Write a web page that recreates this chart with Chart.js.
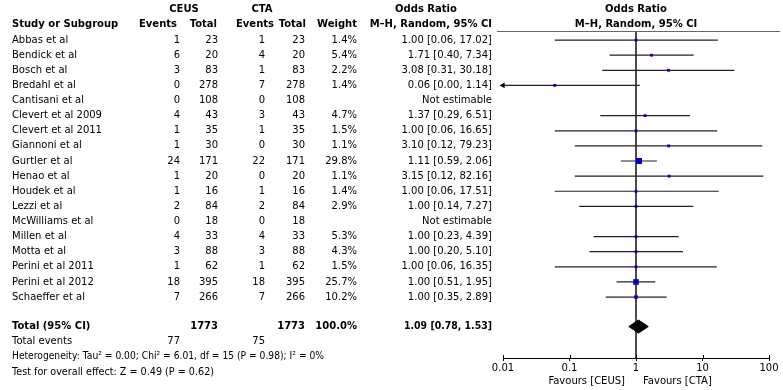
<!DOCTYPE html>
<html>
<head>
  <title>Forest plot - CEUS vs CTA</title>
  <script src="https://cdn.jsdelivr.net/npm/chart.js"></script>
  <style>
    html, body { margin: 0; padding: 0; background: #fff; }
    #wrap { width: 783px; height: 390px; position: relative; }
  </style>
</head>
<body>
  <div id="wrap"><canvas id="forest"></canvas></div>

  <script>
    // Study data
    const studies = ['Abbas et al', 'Bendick et al', 'Bosch et al', 'Bredahl et al', 'Cantisani et al',
      'Clevert et al 2009', 'Clevert et al 2011', 'Giannoni et al', 'Gurtler et al', 'Henao et al',
      'Houdek et al', 'Lezzi et al', 'McWilliams et al', 'Millen et al', 'Motta et al',
      'Perini et al 2011', 'Perini et al 2012', 'Schaeffer et al'];
    const ceusEvents = [1, 6, 3, 0, 0, 4, 1, 1, 24, 1, 1, 2, 0, 4, 3, 1, 18, 7];
    const ceusTotal = [23, 20, 83, 278, 108, 43, 35, 30, 171, 20, 16, 84, 18, 33, 88, 62, 395, 266];
    const ctaEvents = [1, 4, 1, 7, 0, 3, 1, 0, 22, 0, 1, 2, 0, 4, 3, 1, 18, 7];
    const ctaTotal = [23, 20, 83, 278, 108, 43, 35, 30, 171, 20, 16, 84, 18, 33, 88, 62, 395, 266];
    const weights = [1.4, 5.4, 2.2, 1.4, null, 4.7, 1.5, 1.1, 29.8, 1.1, 1.4, 2.9, null, 5.3, 4.3, 1.5, 25.7, 10.2];
    const oddsRatio = [1.00, 1.71, 3.08, 0.06, null, 1.37, 1.00, 3.10, 1.11, 3.15, 1.00, 1.00, null, 1.00, 1.00, 1.00, 1.00, 1.00];
    const ciLow = [0.06, 0.40, 0.31, 0.00, null, 0.29, 0.06, 0.12, 0.59, 0.12, 0.06, 0.14, null, 0.23, 0.20, 0.06, 0.51, 0.35];
    const ciHigh = [17.02, 7.34, 30.18, 1.14, null, 6.51, 16.65, 79.23, 2.06, 82.16, 17.51, 7.27, null, 4.39, 5.10, 16.35, 1.95, 2.89];

    const totalCeus = 1773;
    const totalCta = 1773;
    const totalEventsCeus = 77;
    const totalEventsCta = 75;
    const totalOR = 1.09;
    const totalLow = 0.78;
    const totalHigh = 1.53;

    const axisTicks = [0.01, 0.1, 1, 10, 100];
    const heterogeneity = 'Heterogeneity: Tau\u00B2 = 0.00; Chi\u00B2 = 6.01, df = 15 (P = 0.98); I\u00B2 = 0%';
    const overallTest = 'Test for overall effect: Z = 0.49 (P = 0.62)';

    // row positions (in row units)
    const totalRow = 18.95;
    const eventsRow = 19.95;
    const hetRow = 20.95;
    const testRow = 22;

    const FONT = '"DejaVu Sans", Verdana, sans-serif';
    const xMin = axisTicks[0], xMax = axisTicks[axisTicks.length - 1];
    const fmt = v => v.toFixed(2);

    const datasets = [];

    // vertical line of no effect (drawn underneath everything)
    datasets.push({
      data: [{x: 1, y: -0.6}, {x: 1, y: 21.03}], order: 10,
      showLine: true, borderColor: '#333', borderWidth: 1, pointRadius: 0
    });

    // confidence interval lines
    studies.forEach((s, i) => {
      if (oddsRatio[i] === null) return;
      datasets.push({
        data: [{x: Math.max(ciLow[i], xMin), y: i}, {x: Math.min(ciHigh[i], xMax), y: i}], order: 5,
        showLine: true, borderColor: '#222', borderWidth: 1.2, pointRadius: 0
      });
    });

    // arrow for intervals running past the axis
    const arrows = [];
    studies.forEach((s, i) => {
      if (ciLow[i] !== null && ciLow[i] < xMin) arrows.push({x: xMin, y: i});
    });
    datasets.push({
      data: arrows, order: 1, pointStyle: 'triangle', rotation: 270, pointRadius: 3.4, clip: false,
      backgroundColor: '#000', borderColor: '#000', borderWidth: 0
    });

    // weighted squares
    const pts = [], radii = [];
    studies.forEach((s, i) => {
      if (oddsRatio[i] === null) return;
      pts.push({x: oddsRatio[i], y: i});
      radii.push(Math.max(2, Math.sqrt(weights[i]) * 0.78));
    });
    datasets.push({
      data: pts, order: 0, pointStyle: 'rect', pointRadius: radii,
      backgroundColor: '#0000c8', borderColor: '#0000c8', borderWidth: 0
    });

    // pooled diamond
    const dh = 0.43;
    datasets.push({
      data: [{x: totalLow, y: totalRow}, {x: totalOR, y: totalRow - dh}, {x: totalHigh, y: totalRow},
             {x: totalOR, y: totalRow + dh}, {x: totalLow, y: totalRow}],
      order: 0, showLine: true, fill: 'shape', backgroundColor: '#000', borderColor: '#000',
      borderWidth: 1, pointRadius: 0, tension: 0
    });

    // table text plugin
    const tablePlugin = {
      id: 'tableText',
      afterDraw(chart) {
        const ctx = chart.ctx;
        const y = chart.scales.y;
        const x = chart.scales.x;
        const ry = r => y.getPixelForValue(r);
        const normal = '10px ' + FONT;
        const bold = 'bold 10px ' + FONT;

        function text(str, px, py, align, font, maxW) {
          ctx.font = font || normal;
          ctx.textAlign = align || 'left';
          ctx.textBaseline = 'middle';
          ctx.fillStyle = '#000';
          if (maxW) ctx.fillText(str, px, py, maxW);
          else ctx.fillText(str, px, py);
        }

        ctx.save();
        // header line over the plot
        ctx.strokeStyle = '#666';
        ctx.lineWidth = 1;
        ctx.beginPath();
        ctx.moveTo(497, 31.5);
        ctx.lineTo(780, 31.5);
        ctx.stroke();

        // small tick marks above the axis line
        ctx.strokeStyle = '#000';
        ctx.beginPath();
        axisTicks.forEach(v => {
          const px = Math.round(x.getPixelForValue(v)) + 0.5;
          ctx.moveTo(px, chart.chartArea.bottom - 3);
          ctx.lineTo(px, chart.chartArea.bottom);
        });
        ctx.stroke();

        // headers
        text('CEUS', 184, 9, 'center', bold);
        text('CTA', 262, 9, 'center', bold);
        text('Odds Ratio', 426, 9, 'center', bold);
        text('Odds Ratio', x.getPixelForValue(1), 9, 'center', bold);
        text('Study or Subgroup', 12, 24, 'left', bold);
        text('Events', 177, 24, 'right', bold);
        text('Total', 217, 24, 'right', bold);
        text('Events', 274, 24, 'right', bold);
        text('Total', 306, 24, 'right', bold);
        text('Weight', 357, 24, 'right', bold);
        text('M\u2013H, Random, 95% CI', 492, 24, 'right', bold);
        text('M\u2013H, Random, 95% CI', x.getPixelForValue(1), 24, 'center', bold);

        // study rows
        studies.forEach((s, i) => {
          const py = ry(i);
          text(s, 12, py);
          text(String(ceusEvents[i]), 180, py, 'right');
          text(String(ceusTotal[i]), 218, py, 'right');
          text(String(ctaEvents[i]), 265, py, 'right');
          text(String(ctaTotal[i]), 305, py, 'right');
          if (weights[i] !== null) text(weights[i].toFixed(1) + '%', 357, py, 'right');
          if (oddsRatio[i] === null) {
            text('Not estimable', 492, py, 'right');
          } else {
            text(fmt(oddsRatio[i]) + ' [' + fmt(ciLow[i]) + ', ' + fmt(ciHigh[i]) + ']', 492, py, 'right');
          }
        });

        // totals
        text('Total (95% CI)', 12, ry(totalRow), 'left', bold);
        text(String(totalCeus), 218, ry(totalRow), 'right', bold);
        text(String(totalCta), 305, ry(totalRow), 'right', bold);
        text('100.0%', 357, ry(totalRow), 'right', bold);
        text(fmt(totalOR) + ' [' + fmt(totalLow) + ', ' + fmt(totalHigh) + ']', 492, ry(totalRow), 'right', bold, 88);
        text('Total events', 12, ry(eventsRow));
        text(String(totalEventsCeus), 180, ry(eventsRow), 'right');
        text(String(totalEventsCta), 265, ry(eventsRow), 'right');
        text(heterogeneity, 12, ry(hetRow), 'left', normal, 312);
        text(overallTest, 12, ry(testRow), 'left', normal, 202);

        // favours labels
        const x1 = x.getPixelForValue(1);
        text('Favours [CEUS]', x1 - 11, 381, 'right');
        text('Favours [CTA]', x1 + 7, 381, 'left');
        ctx.restore();
      }
    };

    new Chart(document.getElementById('forest'), {
      type: 'scatter',
      data: { datasets: datasets },
      options: {
        responsive: true,
        maintainAspectRatio: false,
        animation: false,
        layout: { padding: { left: 503, right: 14, top: 31, bottom: 0 } },
        plugins: { legend: { display: false }, tooltip: { enabled: false } },
        scales: {
          x: {
            type: 'logarithmic',
            min: xMin,
            max: xMax,
            afterBuildTicks: s => { s.ticks = axisTicks.map(v => ({value: v})); },
            afterFit: s => { s.height = 32; },
            ticks: {
              color: '#000',
              font: { family: FONT, size: 10 },
              padding: 1,
              maxRotation: 0,
              callback: v => String(v)
            },
            grid: { drawOnChartArea: false, tickLength: 3, color: '#000' },
            border: { color: '#000', width: 1 }
          },
          y: {
            type: 'linear',
            reverse: true,
            min: -0.6,
            max: 21.03,
            display: false
          }
        }
      },
      plugins: [tablePlugin]
    });
  </script>
</body>
</html>
